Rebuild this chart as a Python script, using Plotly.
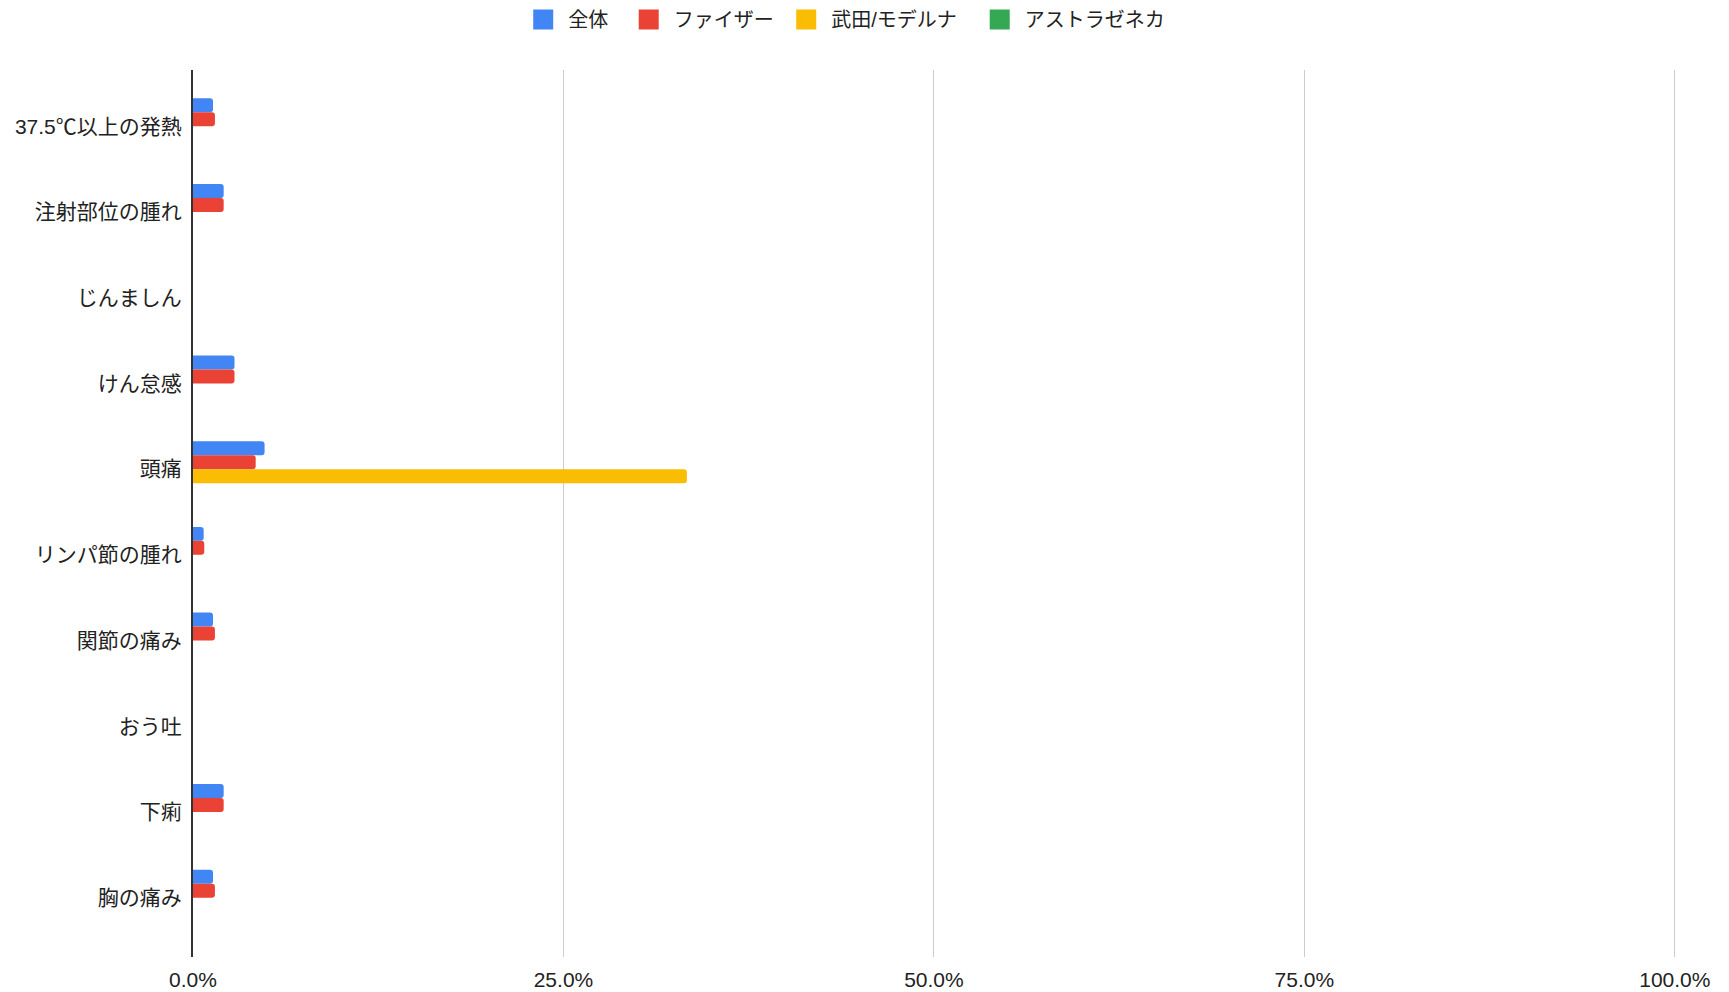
import plotly.graph_objects as go

categories = ["37.5℃以上の発熱", "注射部位の腫れ", "じんましん", "けん怠感", "頭痛",
              "リンパ節の腫れ", "関節の痛み", "おう吐", "下痢", "胸の痛み"]
series_names = ["全体", "ファイザー", "武田/モデルナ", "アストラゼネカ"]
zentai = [0.0135, 0.0207, 0.0, 0.0280, 0.0483, 0.0072, 0.0135, 0.0, 0.0207, 0.0135]
pfizer = [0.0148, 0.0207, 0.0, 0.0280, 0.0423, 0.0076, 0.0148, 0.0, 0.0207, 0.0148]
moderna = [0.0, 0.0, 0.0, 0.0, 0.3333, 0.0, 0.0, 0.0, 0.0, 0.0]
astra = [0.0, 0.0, 0.0, 0.0, 0.0, 0.0, 0.0, 0.0, 0.0, 0.0]
colors = ["#4285F4", "#EA4335", "#FBBC04", "#34A853"]
x_ticks = [0, 0.25, 0.5, 0.75, 1.0]
x_tick_labels = ["0.0%", "25.0%", "50.0%", "75.0%", "100.0%"]

FONT = "Liberation Sans, Arial, Noto Sans CJK JP"
TXT = "#222222"
# legend entry text widths (layout only)
LEGEND_ENTRY_W = [50.5, 102.5, 138.5, 140]

fig = go.Figure()
for name, vals, col in zip(series_names, [zentai, pfizer, moderna, astra], colors):
    fig.add_trace(go.Bar(
        y=categories, x=vals, name=name, orientation="h",
        marker=dict(color=col, line=dict(width=0)),
        showlegend=False,
    ))
# legend entries with square swatches
for name, col, lw in zip(series_names, colors, LEGEND_ENTRY_W):
    fig.add_trace(go.Scatter(
        x=[None], y=[None], mode="markers", name=name,
        marker=dict(symbol="square", size=16, color=col, line=dict(color=col, width=4)),
        showlegend=True, legendwidth=lw,
    ))

fig.update_layout(
    width=1729, height=992,
    paper_bgcolor="white", plot_bgcolor="white",
    margin=dict(l=193, r=53, t=70, b=35, autoexpand=False),
    barmode="group", bargap=0.347, bargroupgap=0.0,
    barcornerradius=3,
    font=dict(family=FONT, size=21, color=TXT),
    legend=dict(
        orientation="h", x=0.2193, xanchor="left",
        yref="container", y=1 - 19.5 / 992, yanchor="middle",
        font=dict(size=20, color=TXT),
        itemclick=False, itemdoubleclick=False, traceorder="normal",
        itemwidth=40,
    ),
    showlegend=True,
)
fig.update_xaxes(
    range=[0, 1.0008], tickvals=x_ticks, ticktext=x_tick_labels,
    showgrid=True, gridcolor="#cccccc", gridwidth=1.3,
    zeroline=False, showline=False, automargin=False,
    tickfont=dict(size=21, color=TXT),
    ticks="outside", ticklen=0, ticklabelstandoff=4,
    fixedrange=True,
)
fig.update_yaxes(
    categoryorder="array", categoryarray=categories,
    range=[9.69, -0.655], automargin=False,
    showgrid=False, zeroline=False,
    showline=True, linecolor="#333333", linewidth=2,
    tickfont=dict(size=21, color=TXT),
    ticks="outside", ticklen=0, ticklabelstandoff=5,
    fixedrange=True,
)

fig.write_html(
    "out.html",
    config={"displayModeBar": False},
    post_script="document.body.style.margin='0';document.body.style.overflow='hidden';",
)
